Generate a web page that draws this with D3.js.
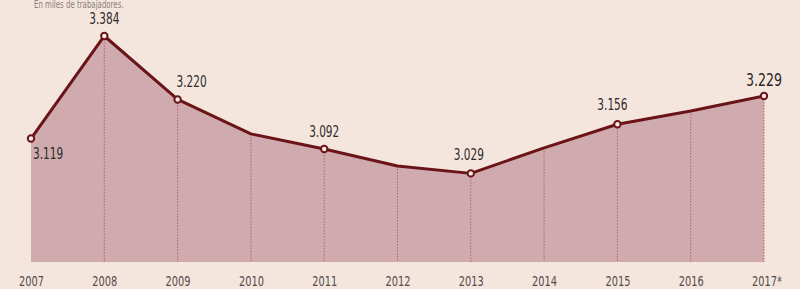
<!DOCTYPE html>
<html>
<head>
<meta charset="utf-8">
<script src="https://cdn.jsdelivr.net/npm/d3@7"></script>
<style>
	html, body { margin: 0; padding: 0; background: #f4e6dd; }
	svg { display: block; }
	text { font-family: 'DejaVu Sans Condensed', 'DejaVu Sans', sans-serif; }
	.tick-lbl { font-size: 14px; fill: #554c4c; }
	.val { font-size: 15px; fill: #2e2a2a; }
	.val.big { font-size: 18px; }
	.sub { font-size: 10px; fill: #8a8080; }
</style>
</head>
<body>
<div id="chart"></div>
<script>
'use strict';

// En miles de trabajadores
let years = ['2007', '2008', '2009', '2010', '2011', '2012', '2013', '2014', '2015', '2016', '2017*'];
let values = [3.119, 3.384, 3.220, 3.131, 3.092, 3.048, 3.029, 3.095, 3.156, 3.190, 3.229];
let labels = ['3.119', '3.384', '3.220', null, '3.092', null, '3.029', null, '3.156', null, '3.229'];

let W = 800, H = 289;
let SX = 0.78; // squeeze text to look condensed

let svg = d3.select('#chart')
	.append('svg')
		.attr('width', W)
		.attr('height', H)
	;

svg.append('rect').attr('width', W).attr('height', H).attr('fill', '#f4e6dd');

svg.append('text')
	.classed('sub', true)
	.attr('transform', 'translate(34, 8) scale('+SX+',1)')
	.text('En miles de trabajadores.');

let x = d3.scalePoint()
	.domain(years)
	.range([31, 764]);

let y = d3.scaleLinear()
	.domain([2.8, 3.4])
	.range([262, 29.8]);

let data = years.map((yr, i) => ({yr: yr, v: values[i], lbl: labels[i]}));

let area = d3.area()
	.x(d => x(d.yr))
	.y0(y(2.8))
	.y1(d => y(d.v));

svg.append('path')
	.datum(data)
	.attr('d', area)
	.attr('fill', '#cfaaae');

// dotted drop lines
svg.append('g')
	.selectAll('line')
	.data(data.slice(1))
	.join('line')
		.attr('x1', d => x(d.yr))
		.attr('x2', d => x(d.yr))
		.attr('y1', d => y(d.v))
		.attr('y2', y(2.8))
		.attr('stroke', '#b0646c')
		.attr('stroke-width', 1)
		.attr('stroke-dasharray', '1.5,1.5')
	;

let line = d3.line()
	.x(d => x(d.yr))
	.y(d => y(d.v));

svg.append('path')
	.datum(data)
	.attr('d', line)
	.attr('fill', 'none')
	.attr('stroke', '#6b1418')
	.attr('stroke-width', 3)
	.attr('stroke-linejoin', 'round');

svg.append('g')
	.selectAll('circle')
	.data(data.filter(d => d.lbl))
	.join('circle')
		.attr('cx', d => x(d.yr))
		.attr('cy', d => y(d.v))
		.attr('r', 3.2)
		.attr('fill', '#f7ece6')
		.attr('stroke', '#6b1418')
		.attr('stroke-width', 2)
	;

// label placement: [dx, dy, anchor]
let place = {
	'2007': [2, 20, 'start'],
	'2008': [0, -12, 'middle'],
	'2009': [14, -12, 'middle'],
	'2011': [0, -12, 'middle'],
	'2013': [-2, -13, 'middle'],
	'2015': [-5, -14, 'middle'],
	'2017*': [0, -10, 'middle'],
};

svg.append('g')
	.selectAll('text')
	.data(data.filter(d => d.lbl))
	.join('text')
		.attr('class', d => d.yr === '2017*' ? 'val big' : 'val')
		.attr('transform', d => 'translate('+(x(d.yr) + place[d.yr][0])+','+(y(d.v) + place[d.yr][1])+') scale('+SX+',1)')
		.attr('text-anchor', d => place[d.yr][2])
		.text(d => d.lbl)
	;

let axis = d3.axisBottom(x).tickSize(0).tickPadding(0);
let ax = svg.append('g')
	.attr('transform', 'translate(0, 276)')
	.call(axis);
ax.select('.domain').remove();
ax.selectAll('text')
	.attr('class', 'tick-lbl')
	.attr('dy', '0.71em')
	.attr('fill', null)
	.attr('font-family', null)
	.attr('font-size', null)
	.attr('transform', 'scale('+SX+',1)');
ax.selectAll('.tick').filter(d => d === '2017*').select('text').attr('dx', 3);
</script>
</body>
</html>
